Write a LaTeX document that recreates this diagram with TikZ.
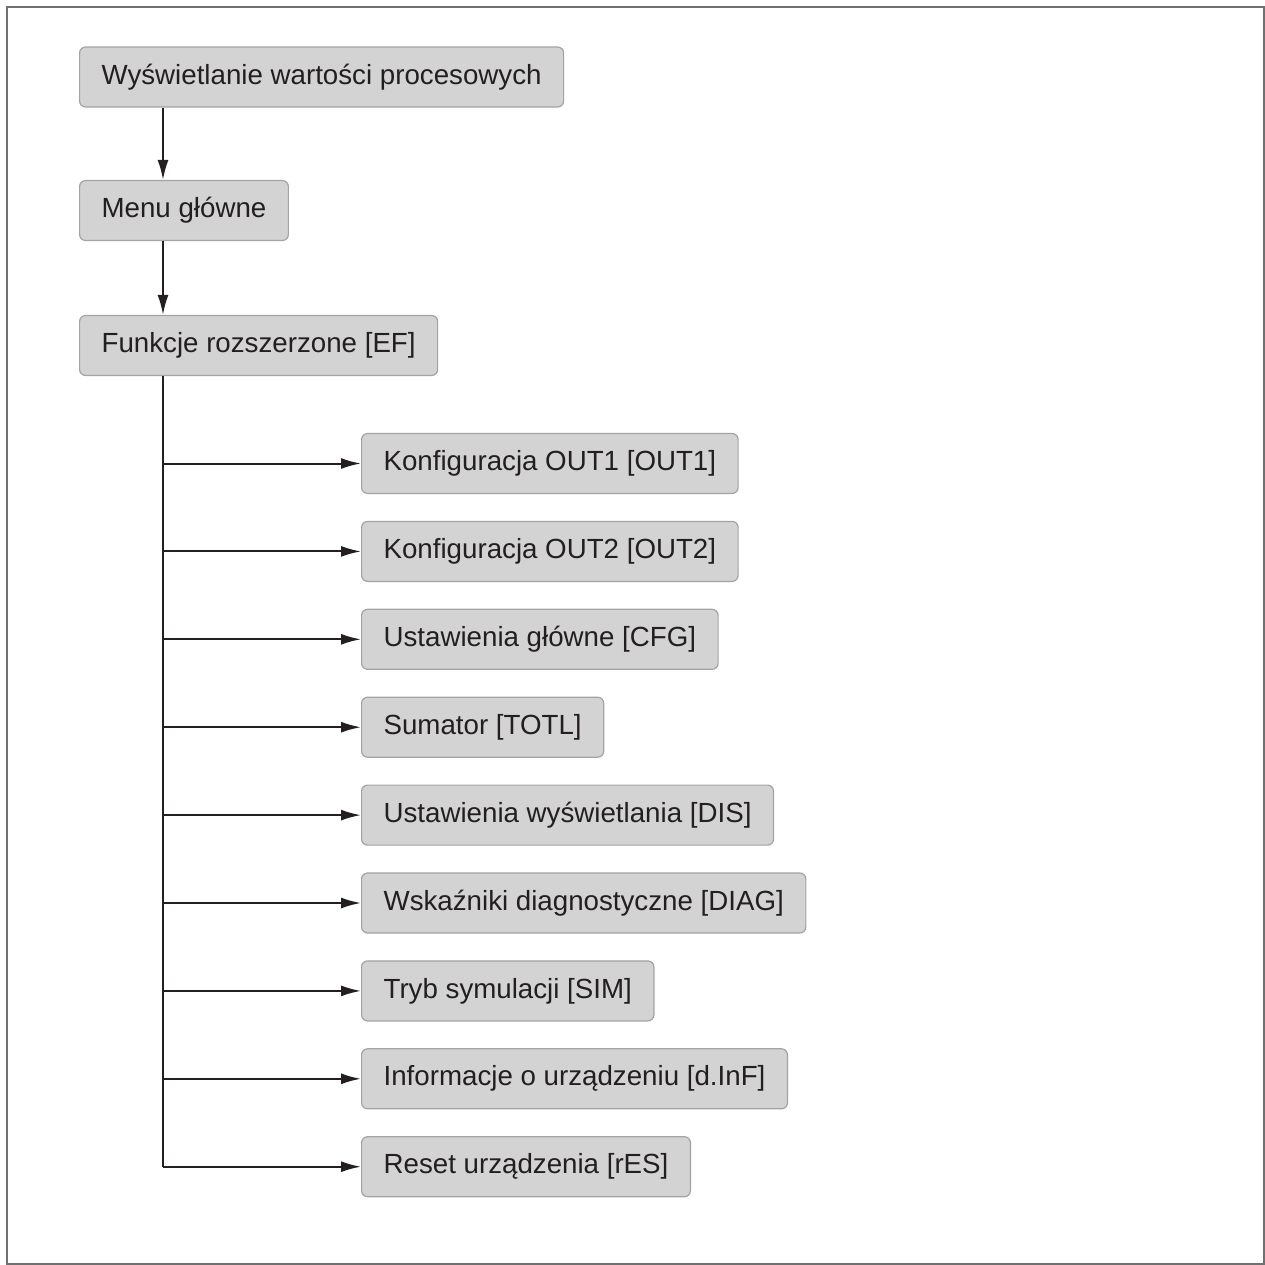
\documentclass[tikz,border=0pt]{standalone}
\usepackage{fontspec}
\setmainfont{Liberation Sans}
\usetikzlibrary{arrows.meta}
\definecolor{boxfill}{HTML}{D3D3D4}
\definecolor{boxline}{HTML}{A3A3A3}
\definecolor{framegray}{HTML}{707070}
\definecolor{ink}{HTML}{231F20}
\tikzset{
  menubox/.style={draw=boxline, fill=boxfill, rounded corners=3pt, line width=0.6pt,
    minimum height=30pt, inner xsep=11pt, anchor=west, text=ink,
    font=\fontsize{13.85}{16}\selectfont},
  arr/.style={-{Latex[length=10pt,width=5.5pt]}, line width=1pt, ink}
}
\begin{document}
\begin{tikzpicture}[x=0.5pt,y=-0.5pt]
    \useasboundingbox (0,0) rectangle (1265,1265);
    \draw [framegray, line width=1pt] (7,7) rectangle (1264,1264);
    \coordinate (spine) at (163,0);

    \node [menubox] (pv) at (79,77) {Wyświetlanie wartości procesowych};
    \node [menubox] (menu) at (79,210.5) {Menu główne};
    \node [menubox] (ef) at (79,345.5) {Funkcje rozszerzone [EF]};
    \draw [arr] (pv.south -| spine) -- (menu.north -| spine);
    \draw [arr] (menu.south -| spine) -- (ef.north -| spine);

    \foreach \name/\txt [count=\i from 0] in {out1/{Konfiguracja OUT1 [OUT1]}, out2/{Konfiguracja OUT2 [OUT2]},
        cfg/{Ustawienia główne [CFG]}, totl/{Sumator [TOTL]}, dis/{Ustawienia wyświetlania [DIS]},
        diag/{Wskaźniki diagnostyczne [DIAG]}, sim/{Tryb symulacji [SIM]},
        dinf/{Informacje o urządzeniu [d.InF]}, res/{Reset urządzenia [rES]}}
        \node [menubox] (\name) at (361,463.5+87.9*\i) {\txt};

    \draw [ink, line width=1pt] (ef.south -| spine) -- (spine |- res.west);
    \foreach \name in {out1,out2,cfg,totl,dis,diag,sim,dinf,res}
        \draw [arr] (spine |- \name.west) -- (\name.west);
\end{tikzpicture}
\end{document}
